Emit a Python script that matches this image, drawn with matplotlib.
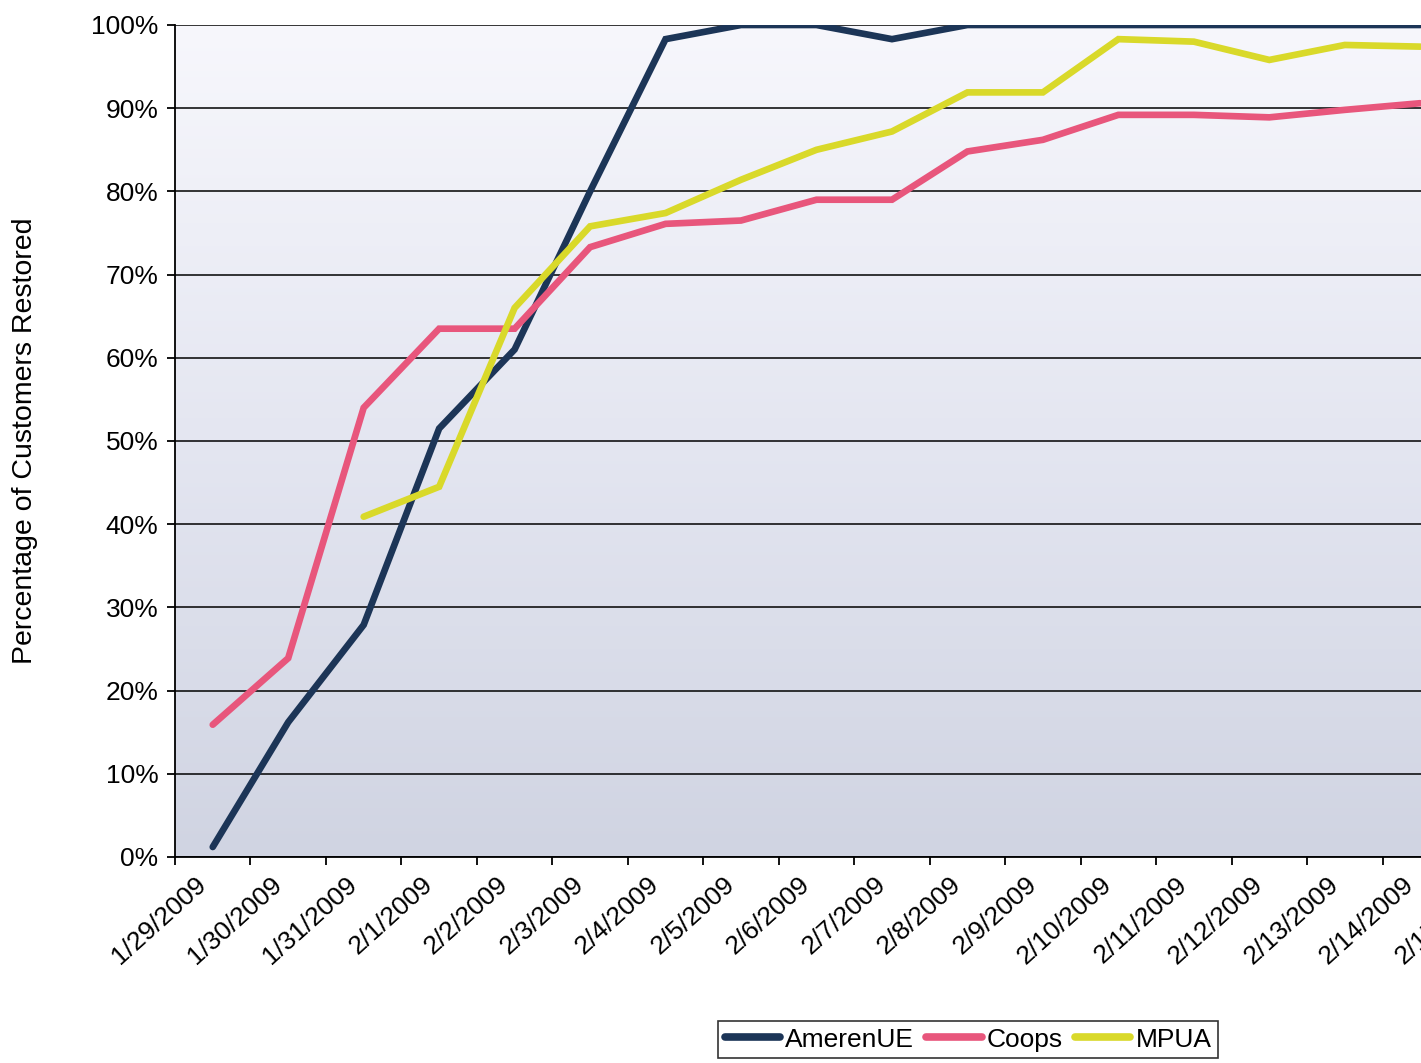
import numpy as np
import matplotlib
matplotlib.use('Agg')
import matplotlib.pyplot as plt
from matplotlib.transforms import ScaledTranslation
from matplotlib.colors import LinearSegmentedColormap

plt.rcParams['font.family'] = ['Liberation Sans', 'DejaVu Sans']

# tick labels, one per day
dates = ['1/29/2009', '1/30/2009', '1/31/2009', '2/1/2009', '2/2/2009', '2/3/2009',
         '2/4/2009', '2/5/2009', '2/6/2009', '2/7/2009', '2/8/2009', '2/9/2009',
         '2/10/2009', '2/11/2009', '2/12/2009', '2/13/2009', '2/14/2009', '2/15/2009']

# percent restored, sampled mid-day from 1/29 to 2/14
ameren = [1.2, 16.2, 27.9, 51.5, 61, 80, 98.3, 100, 100, 98.3, 100, 100, 100, 100, 100, 100, 100]
coops = [15.9, 23.9, 54, 63.5, 63.5, 73.3, 76.1, 76.5, 79, 79, 84.8, 86.2, 89.2, 89.2, 88.9, 89.8, 90.6]
mpua = [np.nan, np.nan, 40.9, 44.5, 66, 75.8, 77.4, 81.4, 85, 87.2, 91.9, 91.9, 98.3, 98, 95.8, 97.6, 97.4]

series = ['AmerenUE', 'Coops', 'MPUA']
colors = ['#1c3557', '#e8567c', '#d9d92a']

W, H = 1421, 1063
fig = plt.figure(figsize=(W / 100, H / 100), dpi=100)
left, right, top, bottom = 175, 1458, 25, 857
ax = fig.add_axes([left / W, 1 - bottom / H, (right - left) / W, (bottom - top) / H])

# gradient background of the plot area
cmap = LinearSegmentedColormap.from_list('bg', ['#d0d4e2', '#e4e6f1', '#f7f7fc'])
grad = np.linspace(0, 1, 256).reshape(-1, 1)
ax.imshow(grad, cmap=cmap, extent=[0, 1, 0, 1], transform=ax.transAxes,
          aspect='auto', origin='lower', zorder=-1)

x = np.arange(len(ameren)) + 0.5
for vals, name, c in zip([ameren, coops, mpua], series, colors):
    ax.plot(x, vals, color=c, lw=4.8, label=name, zorder=3,
            solid_joinstyle='miter', solid_capstyle='round')

ax.set_xlim(0, len(dates) - 1)
ax.set_ylim(0, 100)
ax.set_yticks(np.arange(0, 101, 10))
ax.set_yticklabels([f'{v}%' for v in range(0, 101, 10)])
ax.set_xticks(np.arange(len(dates)))
ax.set_xticklabels(dates, rotation=42, ha='right', va='top', rotation_mode='anchor')

ax.yaxis.grid(True, color='black', lw=1.1, zorder=1)
ax.tick_params(axis='both', direction='out', length=6, width=1.3, labelsize=19, color='black')
ax.tick_params(axis='y', pad=6)
ax.tick_params(axis='x', pad=2)
for lbl in ax.get_xticklabels():
    lbl.set_transform(lbl.get_transform() + ScaledTranslation(0.2, -0.04, fig.dpi_scale_trans))

for s in ['top', 'right']:
    ax.spines[s].set_visible(False)
ax.spines['left'].set_linewidth(1.3)
ax.spines['bottom'].set_linewidth(1.3)

fig.text(25 / W, 1 - 441 / H, 'Percentage of Customers Restored', rotation=90,
         ha='center', va='center', fontsize=20.5)

leg = fig.legend(loc='upper left', bbox_to_anchor=(718 / W, 1 - 1021 / H), ncol=3,
                 fontsize=19, frameon=True, fancybox=False, edgecolor='black',
                 handlelength=2.1, handletextpad=0.2, columnspacing=0.45,
                 borderpad=0.25, borderaxespad=0)
leg.get_frame().set_linewidth(1.2)
for h in leg.get_lines():
    h.set_linewidth(5.5)

fig.savefig('out.png', dpi=100)
